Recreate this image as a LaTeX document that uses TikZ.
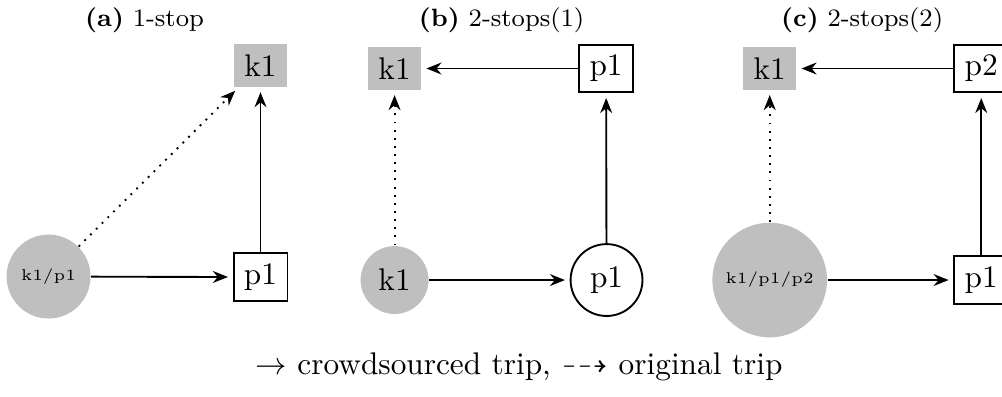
\documentclass[tikz,border=0pt]{standalone}
\usepackage{amssymb}
\usetikzlibrary{arrows.meta}

\begin{document}
\begin{tikzpicture}[
    dest/.style={
        rectangle, fill=gray!50, inner sep=3.33pt
    },
    pbox/.style={
        draw, rectangle, semithick, inner sep=3.33pt
    },
    src/.style={
        circle, fill=gray!50, inner sep=3.33pt
    },
    pcirc/.style={
        draw, circle, semithick, inner sep=3.33pt
    },
    ttl/.style={font=\footnotesize},
    arr/.style={-{Stealth[length=4.8pt, width=3.8pt]}, semithick, shorten >=1.5pt},
    darr/.style={arr, dotted}
]

\useasboundingbox (0,0) rectangle (11.25,-4.447);

%% ---- (a) 1-stop ----
\node[ttl]   at ( 1.623,-0.225) (ta) {\textbf{(a)} 1-stop};
\node[dest]  at ( 2.925,-0.736) (ka) {k1};
\node[pbox]  at ( 2.925,-3.111) (pa) {p1};
\node[src]   at ( 0.545,-3.105) (ca) {\tiny k1/p1};

\draw[arr]  (ca) -- (pa);
\draw[arr]  (pa) -- (ka);
\draw[darr] (ca) -- (ka);

%% ---- (b) 2-stops(1) ----
\node[ttl]   at ( 5.632,-0.225) (tb) {\textbf{(b)} 2-stops(1)};
\node[dest]  at ( 4.430,-0.769) (kb) {k1};
\node[pbox]  at ( 6.805,-0.769) (pb) {p1};
\node[src]   at ( 4.430,-3.144) (cb) {k1};
\node[pcirc] at ( 6.810,-3.144) (qb) {p1};

\draw[arr]  (cb) -- (qb);
\draw[arr]  (qb) -- (pb);
\draw[arr]  (pb) -- (kb);
\draw[darr] (cb) -- (kb);

%% ---- (c) 2-stops(2) ----
\node[ttl]   at ( 9.680,-0.225) (tc) {\textbf{(c)} 2-stops(2)};
\node[dest]  at ( 8.642,-0.769) (kc) {k1};
\node[pbox]  at (11.017,-0.769) (pc2) {p2};
\node[pbox]  at (11.017,-3.144) (pc1) {p1};
\node[src]   at ( 8.642,-3.144) (cc) {\tiny k1/p1/p2};

\draw[arr]  (cc) -- (pc1);
\draw[arr]  (pc1) -- (pc2);
\draw[arr]  (pc2) -- (kc);
\draw[darr] (cc) -- (kc);

%% ---- legend ----
\node at (5.828,-4.120) (lgd) {$\rightarrow$ crowdsourced trip, $\dashrightarrow$ original trip};

\end{tikzpicture}
\end{document}
